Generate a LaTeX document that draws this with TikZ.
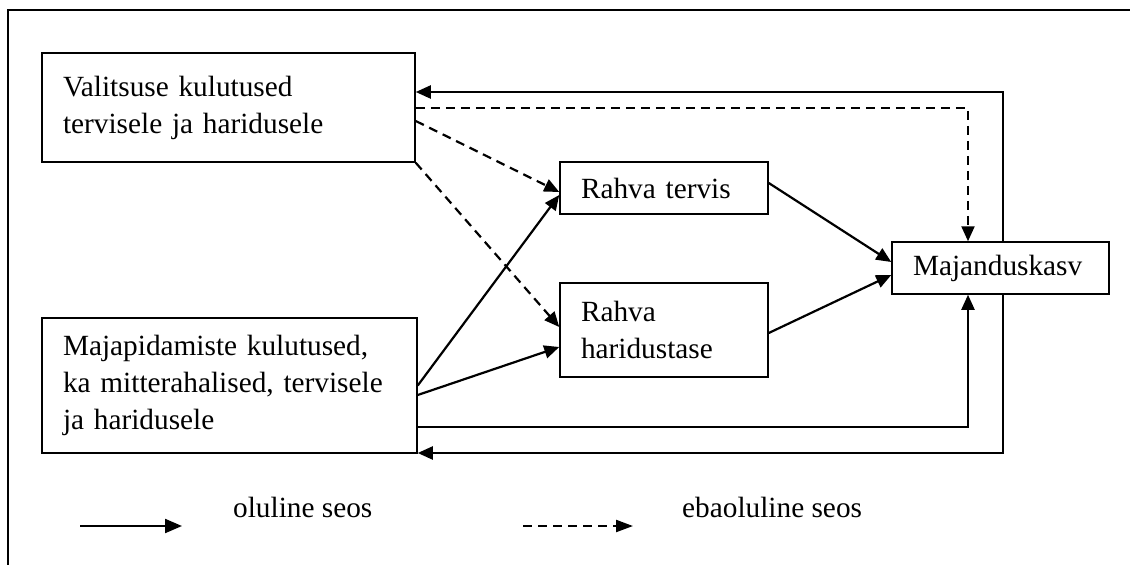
\documentclass[tikz,border=0pt]{standalone}
\usepackage{fontspec}
\setmainfont{Liberation Serif}
\usetikzlibrary{arrows.meta}
\newcommand{\fsz}{\fontsize{29.3pt}{37pt}\selectfont}
\begin{document}
\begin{tikzpicture}[x=1pt,y=-1pt,
  box/.style={draw, line width=1.5pt, fill=white, inner xsep=21pt, inner ysep=0pt,
              align=left, font=\fsz, anchor=center},
  sol/.style={line width=2.2pt, -{Triangle[length=15pt,width=13pt]}},
  das/.style={line width=2.2pt, dash pattern=on 9pt off 6pt, -{Triangle[length=15pt,width=13pt]}},
  lbl/.style={font=\fsz, anchor=base west, inner sep=0pt}]
\useasboundingbox (0,0) rectangle (1130,565);
% outer frame
\draw[line width=1.8pt] (8,565) -- (8,10) -- (1130,10);
% boxes
\node[box, text width=331pt, minimum height=109pt] (val) at (228.5,107.5)
  {Valitsuse kulutused\\tervisele ja haridusele};
\node[box, text width=333pt, minimum height=135pt] (maj) at (229.5,385.5)
  {Majapidamiste kulutused,\\ka mitterahalised, tervisele\\ja haridusele};
\node[box, text width=166pt, minimum height=52pt] (terv) at (664,188) {Rahva tervis};
\node[box, text width=166pt, minimum height=94pt] (har) at (664,330) {Rahva\\haridustase};
\node[box, text width=175pt, minimum height=52pt] (kasv) at (1000.5,268) {Majanduskasv};
% corner coordinates
\coordinate (tr) at (1003,92);
\coordinate (br) at (1003,453);
\coordinate (dtr) at (968,108);
\coordinate (mb) at (968,427);
% loops
\draw[sol] (kasv.north -| tr) -- (tr) -- (val.east |- tr);
\draw[sol] (kasv.south -| br) -- (br) -- (maj.east |- br);
\draw[das] (val.east |- dtr) -- (dtr) -- (kasv.north -| dtr);
\draw[sol] (maj.east |- mb) -- (mb) -- (kasv.south -| mb);
% diagonal links
\draw[das] ([yshift=-13.5pt]val.east) -- ([yshift=-4pt]terv.west);
\draw[das] (val.south east) -- ([yshift=3pt]har.west);
\draw[sol] (maj.east) -- ([yshift=-7pt]terv.west);
\draw[sol] ([yshift=-9.5pt]maj.east) -- ([yshift=-17pt]har.west);
\draw[sol] ([yshift=5pt]terv.east) -- ([yshift=6pt]kasv.west);
\draw[sol] ([yshift=-3pt]har.east) -- ([yshift=-7pt]kasv.west);
% legend
\coordinate (l1a) at (80,526);
\coordinate (l1b) at (182,526);
\coordinate (l2a) at (523,526);
\coordinate (l2b) at (633,526);
\draw[sol, -{Triangle[length=17pt,width=14pt]}] (l1a) -- (l1b);
\draw[das, -{Triangle[length=17pt,width=12pt]}] (l2a) -- (l2b);
\node[lbl] (t1) at (233,517) {oluline seos};
\node[lbl] (t2) at (682,517) {ebaoluline seos};
\end{tikzpicture}
\end{document}
